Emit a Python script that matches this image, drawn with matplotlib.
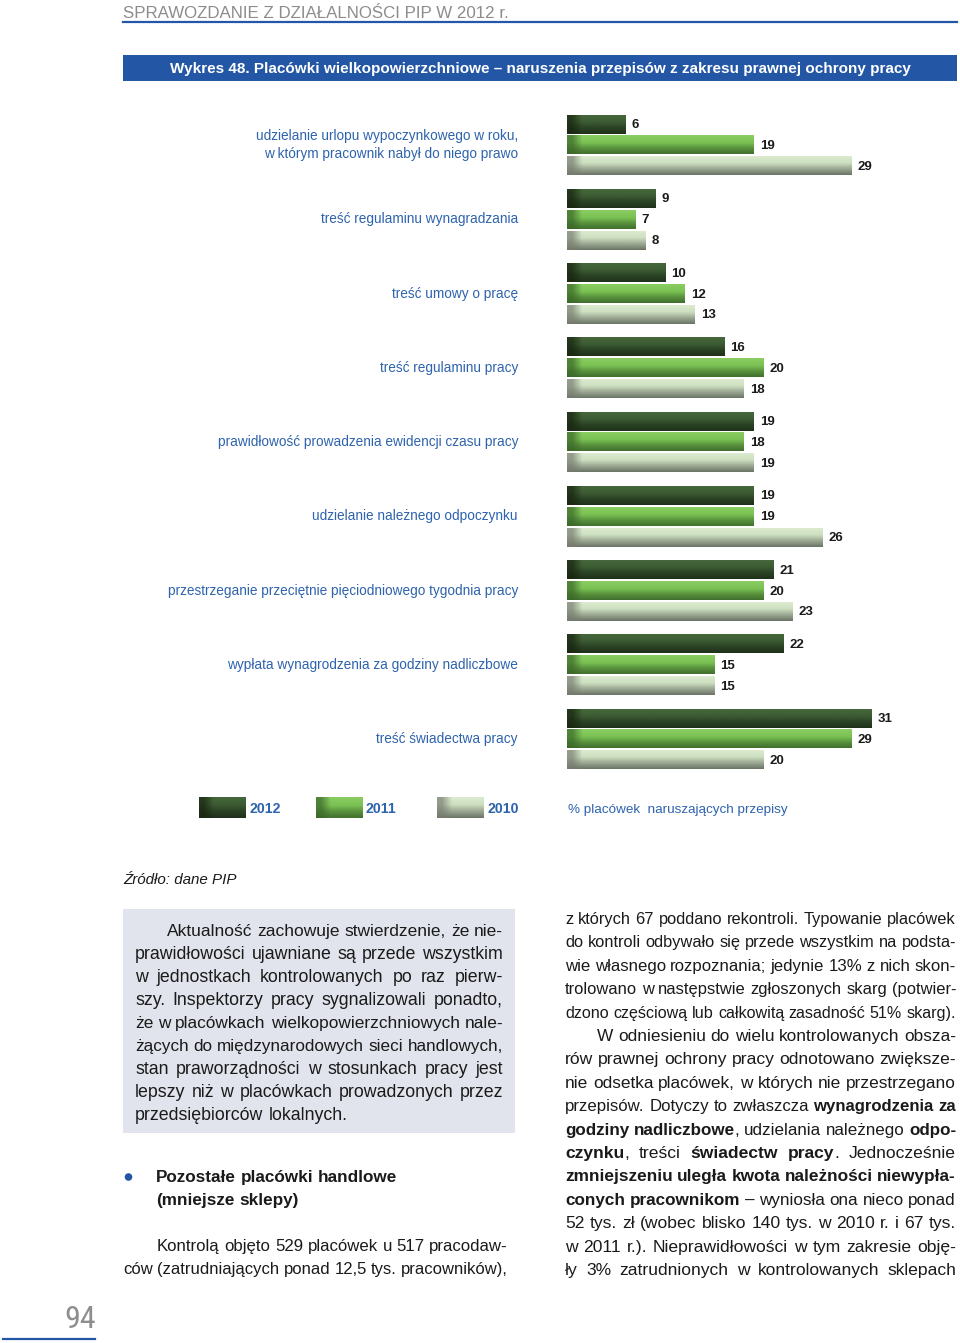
import numpy as np
import matplotlib
matplotlib.use('Agg')
import matplotlib.pyplot as plt
from matplotlib import font_manager
from matplotlib.colors import to_rgb
from matplotlib.patches import Rectangle, Circle

plt.rcParams['font.family'] = ['Liberation Sans', 'DejaVu Sans']

# chart data
categories = [
    'udzielanie urlopu wypoczynkowego w roku,\nw którym pracownik nabył do niego prawo',
    'treść regulaminu wynagradzania',
    'treść umowy o pracę',
    'treść regulaminu pracy',
    'prawidłowość prowadzenia ewidencji czasu pracy',
    'udzielanie należnego odpoczynku',
    'przestrzeganie przeciętnie pięciodniowego tygodnia pracy',
    'wypłata wynagrodzenia za godziny nadliczbowe',
    'treść świadectwa pracy',
]
years = ['2012', '2011', '2010']
v2012 = [6, 9, 10, 16, 19, 19, 21, 22, 31]
v2011 = [19, 7, 12, 20, 18, 19, 20, 15, 29]
v2010 = [29, 8, 13, 18, 19, 26, 23, 15, 20]

header = 'SPRAWOZDANIE Z DZIAŁALNOŚCI PIP W 2012 r.'
title = 'Wykres 48. Placówki wielkopowierzchniowe – naruszenia przepisów z zakresu prawnej ochrony pracy'
source = 'Źródło: dane PIP'
legend_note = '% placówek  naruszających przepisy'
page_no = '94'

# page text, '*' toggles bold
box_lines = [
    'Aktualność zachowuje stwierdzenie, że nie-',
    'prawidłowości ujawniane są przede wszystkim',
    'w jednostkach kontrolowanych po raz pierw-',
    'szy. Inspektorzy pracy sygnalizowali ponadto,',
    'że w placówkach wielkopowierzchniowych nale-',
    'żących do międzynarodowych sieci handlowych,',
    'stan praworządności w stosunkach pracy jest',
    'lepszy niż w placówkach prowadzonych przez',
    'przedsiębiorców lokalnych.',
]
bullet_lines = ['Pozostałe placówki handlowe', '(mniejsze sklepy)']
left_lines = [
    'Kontrolą objęto 529 placówek u 517 pracodaw-',
    'ców (zatrudniających ponad 12,5 tys. pracowników),',
]
right_lines = [
    'z których 67 poddano rekontroli. Typowanie placówek',
    'do kontroli odbywało się przede wszystkim na podsta-',
    'wie własnego rozpoznania; jedynie 13% z nich skon-',
    'trolowano w następstwie zgłoszonych skarg (potwier-',
    'dzono częściową lub całkowitą zasadność 51% skarg).',
    'W odniesieniu do wielu kontrolowanych obsza-',
    'rów prawnej ochrony pracy odnotowano zwiększe-',
    'nie odsetka placówek, w których nie przestrzegano',
    'przepisów. Dotyczy to zwłaszcza *wynagrodzenia za*',
    '*godziny nadliczbowe*, udzielania należnego *odpo-*',
    '*czynku*, treści *świadectw pracy*. Jednocześnie',
    '*zmniejszeniu uległa kwota należności niewypła-*',
    '*conych pracownikom* – wyniosła ona nieco ponad',
    '52 tys. zł (wobec blisko 140 tys. w 2010 r. i 67 tys.',
    'w 2011 r.). Nieprawidłowości w tym zakresie obję-',
    'ły 3% zatrudnionych w kontrolowanych sklepach',
]

BLUE = '#2356a5'
TXT_BLUE = '#2e63ad'
INK = '#1a1a1a'

# vertical colour stops (pos, colour) and left edge colour of each bar style
grads = {
    '2012': ([0, 0.35, 0.65, 1], ['#46673c', '#3d5c34', '#2b4425', '#1f311a'], '#18240f'),
    '2011': ([0, 0.4, 0.7, 1], ['#8acd62', '#7ac153', '#58903d', '#42702e'], '#3a6628'),
    '2010': ([0, 0.35, 0.6, 1], ['#dcebcf', '#cde0c0', '#a7b49d', '#6b7566'], '#777c70'),
}


def make_grad(yr, px_w, H=40, W=240):
    pos, cols, edge = grads[yr]
    cols = np.array([to_rgb(c) for c in cols])
    t = np.linspace(0, 1, H)
    col = np.stack([np.interp(t, pos, cols[:, c]) for c in range(3)], axis=1)
    img = np.repeat(col[:, None, :], W, axis=1)
    xs = np.linspace(0, px_w, W)
    e = np.clip(1 - (xs - 5) / 10, 0, 1)[None, :, None] * 0.7
    return img * (1 - e) + np.array(to_rgb(edge)) * e


fig = plt.figure(figsize=(9.6, 13.43), dpi=100)
renderer = fig.canvas.get_renderer()

# page layer in pixel coordinates
pg = fig.add_axes([0, 0, 1, 1], zorder=-1)
pg.axis('off')


def fit(t, width):
    w = t.get_window_extent(renderer).width
    t.set_fontsize(t.get_fontsize() * width / w)


# header
t = pg.text(123, 18, header, fontsize=12, color='#8c8c8c', va='baseline')
pg.set_xlim(0, 960)
pg.set_ylim(1343, 0)
fit(t, 385)
pg.plot([123, 957], [21.5, 21.5], color=BLUE, lw=1.6)

# title bar
pg.add_patch(Rectangle((123, 55), 834, 26, color=BLUE, lw=0))
t = pg.text(540, 73.5, title, fontsize=11, color='white', fontweight='bold',
            ha='center', va='baseline')
fit(t, 739)

# bars
ax = fig.add_axes([567 / 960, 1 - 780 / 1343, 393 / 960, 675 / 1343])
ax.axis('off')
series = [v2012, v2011, v2010]
offsets = [-0.28, 0, 0.28]
y = np.arange(len(categories))
for k, (yr, vals) in enumerate(zip(years, series)):
    bars = ax.barh(y + offsets[k], vals, height=0.255, color='none')
    for b, v in zip(bars, vals):
        x0, y0, w, h = b.get_x(), b.get_y(), b.get_width(), b.get_height()
        ax.imshow(make_grad(yr, w * 393 / 40), extent=(x0, x0 + w, y0 + h, y0),
                  aspect='auto', interpolation='bilinear', zorder=2)
        ax.annotate(str(v), (x0 + w, y0 + h / 2), xytext=(6, -1),
                    textcoords='offset pixels', ha='left', va='center',
                    fontsize=9.5, fontweight='bold', color=INK)
for yi, cat in zip(y, categories):
    ax.annotate(cat, (0, yi), xytext=(-49, 0), textcoords='offset pixels',
                ha='right', va='center', multialignment='right',
                fontsize=9.8, color=TXT_BLUE, linespacing=1.4,
                annotation_clip=False)
ax.set_xlim(0, 40)
ax.set_ylim(8.552, -0.539)

# legend
for yr, x0 in zip(years, [199, 316, 437]):
    pg.imshow(make_grad(yr, 47), extent=(x0, x0 + 47, 818, 797),
              aspect='auto', interpolation='bilinear')
    pg.text(x0 + 50, 813, yr, fontsize=10.2, fontweight='bold',
            color=TXT_BLUE, va='baseline')
pg.text(568, 813, legend_note, fontsize=9.7, color=TXT_BLUE, va='baseline')
pg.set_xlim(0, 960)
pg.set_ylim(1343, 0)

t = pg.text(123, 884, source, fontsize=11.5, fontstyle='italic', color=INK,
            va='baseline')
fit(t, 114)


def parse(line):
    bold = False
    words = []
    for raw in line.split(' '):
        segs = []
        for j, p in enumerate(raw.split('*')):
            if j > 0:
                bold = not bold
            if p:
                segs.append((p, bold))
        words.append(segs)
    return words


def natural(words, size, bold=False):
    out = []
    for segs in words:
        ww = 0
        for s, b in segs:
            tt = pg.text(0, 0, s, fontsize=size,
                         fontweight='bold' if (b or bold) else 'normal')
            ww += tt.get_window_extent(renderer).width
            tt.remove()
        out.append(ww)
    return out


def place_line(line, x0, x1, yb, smax, justify=True, bold=False):
    words = parse(line)
    space = 0.278 * 100 / 72   # px per pt
    size = smax
    if justify and len(words) > 1:
        nat = sum(natural(words, 10, bold))
        need = (x1 - x0) / (nat / 10 + (len(words) - 1) * space)
        size = min(smax, need)
    widths = natural(words, size, bold)
    if justify and len(words) > 1:
        gap = (x1 - x0 - sum(widths)) / (len(words) - 1)
    else:
        gap = size * space
    x = x0
    for segs, ww in zip(words, widths):
        xx = x
        for s, b in segs:
            tt = pg.text(xx, yb, s, fontsize=size, color=INK, va='baseline',
                         fontweight='bold' if (b or bold) else 'normal')
            xx += tt.get_window_extent(renderer).width
        x += ww + gap


# grey box
pg.add_patch(Rectangle((123, 909), 392, 224, color='#e2e4ed', lw=0))
starts = [167] + [135] * (len(box_lines) - 1)
for i, ln in enumerate(box_lines):
    place_line(ln, starts[i], 503, 936 + 23.0 * i, 12.8,
               justify=i < len(box_lines) - 1)

# bullet section
pg.add_patch(Circle((128.5, 1177), 3.8, color=BLUE, lw=0))
for i, ln in enumerate(bullet_lines):
    place_line(ln, 156, 515, 1182 + 23.2 * i, 12.3, justify=False, bold=True)
lstarts = [157, 123]
for i, ln in enumerate(left_lines):
    place_line(ln, lstarts[i], 508, 1251 + 23.4 * i, 12.6)

# right column
rstarts = [565] * 5 + [597] + [565] * 10
for i, ln in enumerate(right_lines):
    place_line(ln, rstarts[i], 956, 924 + 23.4 * i, 12.6)

# page number, narrow face if one is installed
names = {f.name for f in font_manager.fontManager.ttflist}
narrow = next((n for n in ['Liberation Sans Narrow', 'Roboto Condensed',
                           'DejaVu Sans Condensed'] if n in names), None)
if narrow:
    pg.text(96, 1328, page_no, fontsize=23, color='#8e8e8e', ha='right',
            va='baseline', fontfamily=narrow)
else:
    pg.text(96, 1328, page_no, fontsize=19, color='#8e8e8e', ha='right',
            va='baseline')
pg.plot([3, 95], [1339, 1339], color=BLUE, lw=1.6)

fig.savefig('out.png', dpi=100)
